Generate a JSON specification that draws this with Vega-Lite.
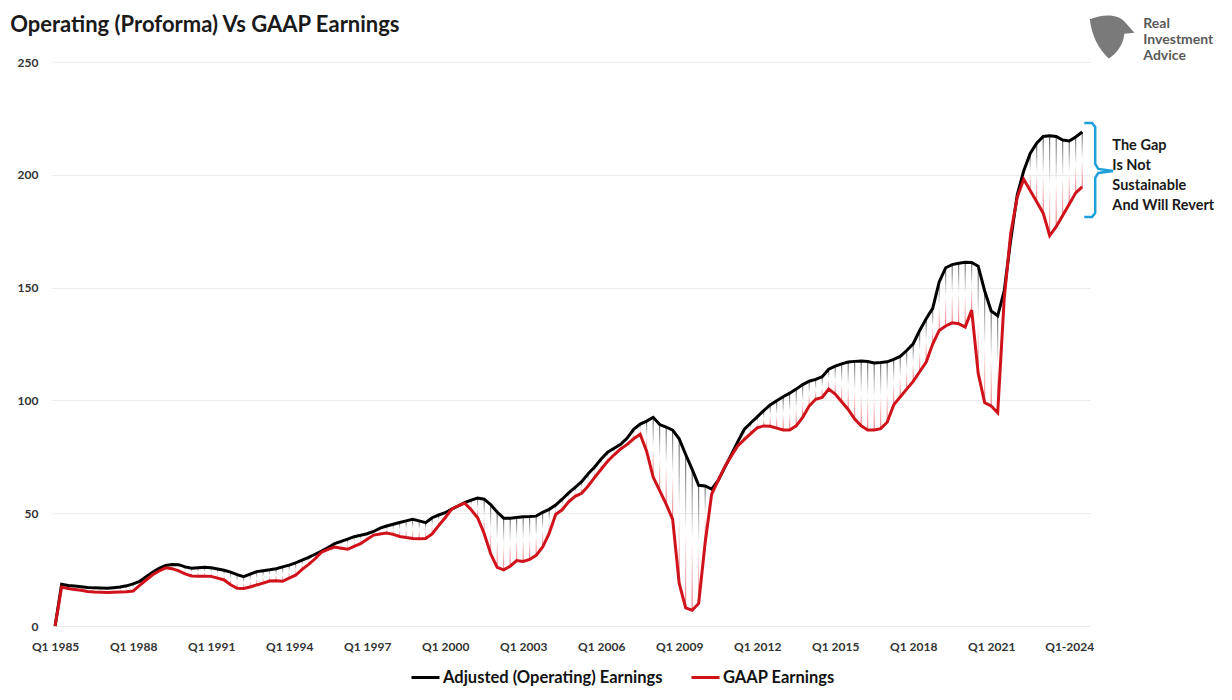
{
 "$schema": "https://vega.github.io/schema/vega-lite/v6.json",
 "width": 1038,
 "height": 564,
 "autosize": {"type": "none"},
 "padding": {"left": 52, "top": 62, "right": 142, "bottom": 74},
 "background": "white",
 "config": {"view": {"stroke": null}, "font": "Lato"},
 "datasets": {
  "earn": [
   {"t":1985.00,"op":0,"gaap":0},{"t":1985.25,"op":18.5,"gaap":17.3},{"t":1985.50,"op":18.0,"gaap":16.6},{"t":1985.75,"op":17.7,"gaap":16.2},
   {"t":1986.00,"op":17.4,"gaap":15.8},{"t":1986.25,"op":17.1,"gaap":15.3},{"t":1986.50,"op":16.9,"gaap":15.1},{"t":1986.75,"op":16.8,"gaap":15.0},
   {"t":1987.00,"op":16.7,"gaap":14.9},{"t":1987.25,"op":17.0,"gaap":15.0},{"t":1987.50,"op":17.3,"gaap":15.1},{"t":1987.75,"op":17.8,"gaap":15.2},
   {"t":1988.00,"op":18.7,"gaap":15.5},{"t":1988.25,"op":19.8,"gaap":18.0},{"t":1988.50,"op":21.8,"gaap":20.4},{"t":1988.75,"op":23.8,"gaap":22.7},
   {"t":1989.00,"op":25.6,"gaap":24.4},{"t":1989.25,"op":26.8,"gaap":25.8},{"t":1989.50,"op":27.3,"gaap":25.4},{"t":1989.75,"op":27.2,"gaap":24.4},
   {"t":1990.00,"op":26.2,"gaap":23.1},{"t":1990.25,"op":25.6,"gaap":22.2},{"t":1990.50,"op":25.8,"gaap":22.0},{"t":1990.75,"op":26.0,"gaap":22.1},
   {"t":1991.00,"op":25.8,"gaap":22.0},{"t":1991.25,"op":25.3,"gaap":21.2},{"t":1991.50,"op":24.7,"gaap":20.4},{"t":1991.75,"op":23.9,"gaap":18.3},
   {"t":1992.00,"op":22.8,"gaap":16.7},{"t":1992.25,"op":21.9,"gaap":16.6},{"t":1992.50,"op":23.0,"gaap":17.3},{"t":1992.75,"op":24.1,"gaap":18.2},
   {"t":1993.00,"op":24.5,"gaap":19.0},{"t":1993.25,"op":24.9,"gaap":19.9},{"t":1993.50,"op":25.4,"gaap":20.1},{"t":1993.75,"op":26.2,"gaap":19.8},
   {"t":1994.00,"op":27.0,"gaap":21.2},{"t":1994.25,"op":28.0,"gaap":22.5},{"t":1994.50,"op":29.2,"gaap":25.1},{"t":1994.75,"op":30.4,"gaap":27.3},
   {"t":1995.00,"op":31.8,"gaap":29.8},{"t":1995.25,"op":33.2,"gaap":32.8},{"t":1995.50,"op":34.8,"gaap":34.0},{"t":1995.75,"op":36.5,"gaap":35.0},
   {"t":1996.00,"op":37.5,"gaap":34.5},{"t":1996.25,"op":38.5,"gaap":34.0},{"t":1996.50,"op":39.6,"gaap":35.3},{"t":1996.75,"op":40.2,"gaap":36.5},
   {"t":1997.00,"op":40.9,"gaap":38.5},{"t":1997.25,"op":41.9,"gaap":40.3},{"t":1997.50,"op":43.4,"gaap":40.8},{"t":1997.75,"op":44.3,"gaap":41.2},
   {"t":1998.00,"op":45.1,"gaap":40.6},{"t":1998.25,"op":45.9,"gaap":39.7},{"t":1998.50,"op":46.6,"gaap":39.2},{"t":1998.75,"op":47.3,"gaap":38.8},
   {"t":1999.00,"op":46.6,"gaap":38.7},{"t":1999.25,"op":45.8,"gaap":38.8},{"t":1999.50,"op":48.0,"gaap":40.8},{"t":1999.75,"op":49.2,"gaap":44.5},
   {"t":2000.00,"op":50.2,"gaap":48.0},{"t":2000.25,"op":51.8,"gaap":51.8},{"t":2000.50,"op":53.2,"gaap":53.3},{"t":2000.75,"op":54.7,"gaap":54.5},
   {"t":2001.00,"op":55.8,"gaap":51.5},{"t":2001.25,"op":56.7,"gaap":48.0},{"t":2001.50,"op":56.2,"gaap":41.0},{"t":2001.75,"op":53.8,"gaap":32.0},
   {"t":2002.00,"op":50.5,"gaap":26.0},{"t":2002.25,"op":47.8,"gaap":24.9},{"t":2002.50,"op":47.8,"gaap":26.5},{"t":2002.75,"op":48.1,"gaap":29.0},
   {"t":2003.00,"op":48.4,"gaap":28.6},{"t":2003.25,"op":48.5,"gaap":29.5},{"t":2003.50,"op":48.7,"gaap":31.3},{"t":2003.75,"op":50.4,"gaap":35.0},
   {"t":2004.00,"op":51.7,"gaap":41.0},{"t":2004.25,"op":53.6,"gaap":49.4},{"t":2004.50,"op":56.2,"gaap":51.5},{"t":2004.75,"op":59.0,"gaap":55.0},
   {"t":2005.00,"op":61.4,"gaap":57.5},{"t":2005.25,"op":64.0,"gaap":58.8},{"t":2005.50,"op":67.5,"gaap":62.0},{"t":2005.75,"op":70.5,"gaap":65.9},
   {"t":2006.00,"op":74.0,"gaap":69.5},{"t":2006.25,"op":77.0,"gaap":73.0},{"t":2006.50,"op":78.8,"gaap":75.9},{"t":2006.75,"op":80.5,"gaap":78.5},
   {"t":2007.00,"op":83.3,"gaap":80.5},{"t":2007.25,"op":87.2,"gaap":83.0},{"t":2007.50,"op":89.5,"gaap":85.0},{"t":2007.75,"op":90.8,"gaap":77.4},
   {"t":2008.00,"op":92.5,"gaap":66.0},{"t":2008.25,"op":89.3,"gaap":60.0},{"t":2008.50,"op":88.2,"gaap":54.0},{"t":2008.75,"op":86.8,"gaap":47.3},
   {"t":2009.00,"op":83.0,"gaap":19.0},{"t":2009.25,"op":76.0,"gaap":8.0},{"t":2009.50,"op":69.4,"gaap":7.0},{"t":2009.75,"op":62.4,"gaap":10.0},
   {"t":2010.00,"op":62.1,"gaap":37.0},{"t":2010.25,"op":60.7,"gaap":58.5},{"t":2010.50,"op":64.5,"gaap":64.5},{"t":2010.75,"op":70.2,"gaap":70.5},
   {"t":2011.00,"op":75.8,"gaap":75.3},{"t":2011.25,"op":81.6,"gaap":79.8},{"t":2011.50,"op":87.1,"gaap":82.6},{"t":2011.75,"op":90.0,"gaap":85.3},
   {"t":2012.00,"op":92.7,"gaap":87.8},{"t":2012.25,"op":95.5,"gaap":88.7},{"t":2012.50,"op":98.0,"gaap":88.5},{"t":2012.75,"op":99.8,"gaap":87.7},
   {"t":2013.00,"op":101.6,"gaap":86.9},{"t":2013.25,"op":103.2,"gaap":86.9},{"t":2013.50,"op":105.0,"gaap":88.7},{"t":2013.75,"op":107.0,"gaap":92.5},
   {"t":2014.00,"op":108.5,"gaap":97.5},{"t":2014.25,"op":109.3,"gaap":100.5},{"t":2014.50,"op":110.5,"gaap":101.3},{"t":2014.75,"op":113.8,"gaap":105.0},
   {"t":2015.00,"op":115.2,"gaap":102.8},{"t":2015.25,"op":116.2,"gaap":99.4},{"t":2015.50,"op":117.0,"gaap":96.0},{"t":2015.75,"op":117.3,"gaap":91.7},
   {"t":2016.00,"op":117.5,"gaap":88.7},{"t":2016.25,"op":117.2,"gaap":86.9},{"t":2016.50,"op":116.6,"gaap":86.9},{"t":2016.75,"op":116.8,"gaap":87.5},
   {"t":2017.00,"op":117.1,"gaap":90.3},{"t":2017.25,"op":118.2,"gaap":98.0},{"t":2017.50,"op":119.5,"gaap":101.5},{"t":2017.75,"op":122.1,"gaap":105.0},
   {"t":2018.00,"op":125.1,"gaap":108.4},{"t":2018.25,"op":131.0,"gaap":112.7},{"t":2018.50,"op":136.2,"gaap":117.0},{"t":2018.75,"op":140.8,"gaap":125.0},
   {"t":2019.00,"op":152.5,"gaap":131.0},{"t":2019.25,"op":158.8,"gaap":133.0},{"t":2019.50,"op":160.2,"gaap":134.4},{"t":2019.75,"op":160.8,"gaap":134.0},
   {"t":2020.00,"op":161.2,"gaap":132.5},{"t":2020.25,"op":161.1,"gaap":140.0},{"t":2020.50,"op":159.5,"gaap":112.0},{"t":2020.75,"op":148.5,"gaap":99.0},
   {"t":2021.00,"op":139.6,"gaap":97.5},{"t":2021.25,"op":137.5,"gaap":94.5},{"t":2021.50,"op":148.5,"gaap":145.0},{"t":2021.75,"op":171.0,"gaap":174.0},
   {"t":2022.00,"op":191.0,"gaap":190.0},{"t":2022.25,"op":201.7,"gaap":198.0},{"t":2022.50,"op":209.5,"gaap":193.0},{"t":2022.75,"op":214.0,"gaap":188.0},
   {"t":2023.00,"op":217.0,"gaap":183.0},{"t":2023.25,"op":217.3,"gaap":173.0},{"t":2023.50,"op":217.0,"gaap":177.0},{"t":2023.75,"op":215.4,"gaap":182.0},
   {"t":2024.00,"op":215.0,"gaap":187.0},{"t":2024.25,"op":216.8,"gaap":192.0},{"t":2024.50,"op":219.0,"gaap":194.6}
  ],
  "brace": [
   {"t":2024.58,"v":223.0,"k":1},{"t":2024.88,"v":223.0,"k":2},{"t":2025.0,"v":221.2,"k":3},{"t":2025.0,"v":204.8,"k":4},
   {"t":2025.12,"v":202.6,"k":5},{"t":2025.69,"v":201.7,"k":6},{"t":2025.12,"v":200.8,"k":7},{"t":2025.0,"v":198.6,"k":8},
   {"t":2025.0,"v":183.1,"k":9},{"t":2024.88,"v":181.3,"k":10},{"t":2024.58,"v":181.3,"k":11}
  ],
  "one": [{}]
 },
 "layer": [
  {
   "data": {"name": "earn"},
   "mark": {"type": "bar", "size": 1, "opacity": 0.75, "color": {"gradient": "linear", "x1": 0, "y1": 0, "x2": 0, "y2": 1, "stops": [{"offset": 0, "color": "#111111"}, {"offset": 0.5, "color": "#ffffff"}, {"offset": 1, "color": "#e0303a"}]}},
   "encoding": {
    "x": {"field": "t", "type": "quantitative", "scale": {"domain": [1984.88, 2024.8], "nice": false, "zero": false, "padding": 0},
      "axis": {"values": [1985,1988,1991,1994,1997,2000,2003,2006,2009,2012,2015,2018,2021,2024], "labelExpr": "datum.value == 2024 ? 'Q1-2024' : 'Q1 ' + datum.value", "grid": false, "domain": false, "ticks": false, "labelPadding": 15, "labelFontSize": 12, "labelFontWeight": "bold", "labelColor": "#333333", "labelFont": "Lato", "title": null}},
    "y": {"field": "op", "type": "quantitative", "scale": {"domain": [0, 250], "nice": false},
      "axis": {"values": [0,50,100,150,200,250], "grid": true, "gridColor": "#ebebeb", "domain": false, "ticks": false, "labelPadding": 14, "labelFontSize": 12, "labelFontWeight": "bold", "labelColor": "#333333", "labelFont": "Lato", "title": null}},
    "y2": {"field": "gaap"}
   }
  },
  {
   "data": {"name": "earn"},
   "transform": [{"fold": ["op", "gaap"], "as": ["series", "value"]}],
   "mark": {"type": "line", "strokeWidth": 3, "interpolate": "linear"},
   "encoding": {
    "x": {"field": "t", "type": "quantitative", "scale": {"domain": [1984.88, 2024.8], "nice": false, "zero": false, "padding": 0}},
    "y": {"field": "value", "type": "quantitative", "scale": {"domain": [0, 250], "nice": false}},
    "color": {"field": "series", "type": "nominal", "scale": {"domain": ["op", "gaap"], "range": ["#000000", "#d0121b"]},
      "legend": {"orient": "none", "legendX": 358, "legendY": 600, "direction": "horizontal", "title": null,
        "labelExpr": "datum.label == 'op' ? 'Adjusted (Operating) Earnings' : 'GAAP Earnings'",
        "labelFontSize": 16.5, "labelFont": "Lato", "labelFontWeight": "bold", "labelColor": "#111111",
        "symbolType": "stroke", "symbolStrokeWidth": 3, "symbolSize": 784, "labelLimit": 400, "columnPadding": 22, "labelOffset": 2}}
   }
  },
  {
   "data": {"name": "brace"},
   "mark": {"type": "line", "color": "#1ea0dc", "strokeWidth": 2.5},
   "encoding": {
    "x": {"field": "t", "type": "quantitative", "scale": {"domain": [1984.88, 2024.8], "nice": false, "zero": false, "padding": 0}},
    "y": {"field": "v", "type": "quantitative", "scale": {"domain": [0, 250], "nice": false}},
    "order": {"field": "k", "type": "quantitative"}
   }
  },
  {
   "data": {"name": "one"},
   "mark": {"type": "text", "align": "left", "baseline": "alphabetic", "fontSize": 22, "fontWeight": "bold", "font": "Lato", "color": "#1a1a1a", "text": "Operating (Proforma) Vs GAAP Earnings"},
   "encoding": {
    "x": {"datum": 1983.27, "type": "quantitative"},
    "y": {"datum": 263.4, "type": "quantitative"}
   }
  },
  {
   "data": {"name": "one"},
   "mark": {"type": "text", "align": "left", "baseline": "middle", "fontSize": 14.5, "fontWeight": "bold", "font": "Lato", "lineHeight": 20, "color": "#1a1a1a", "text": ["The Gap", "Is Not", "Sustainable", "And Will Revert"]},
   "encoding": {
    "x": {"datum": 2025.66, "type": "quantitative"},
    "y": {"datum": 212.8, "type": "quantitative"}
   }
  },
  {
   "data": {"name": "one"},
   "mark": {"type": "text", "align": "left", "baseline": "middle", "fontSize": 14, "fontWeight": "bold", "font": "Lato", "lineHeight": 16, "color": "#5a5a5a", "text": ["Real", "Investment", "Advice"]},
   "encoding": {
    "x": {"datum": 2026.85, "type": "quantitative"},
    "y": {"datum": 266.8, "type": "quantitative"}
   }
  },
  {
   "data": {"name": "one"},
   "mark": {"type": "point", "filled": true, "color": "#7a7a7a", "opacity": 1, "size": 2000, "shape": "M-1,-0.75 C-0.4,-1 0.3,-1 0.6,-0.6 L1,-0.15 L0.55,-0.1 C0.5,0.4 0.2,0.8 -0.15,1 C-0.6,0.6 -0.9,0 -1,-0.75 Z"},
   "encoding": {
    "x": {"datum": 2025.65, "type": "quantitative"},
    "y": {"datum": 261.5, "type": "quantitative"}
   }
  }
 ]
}
